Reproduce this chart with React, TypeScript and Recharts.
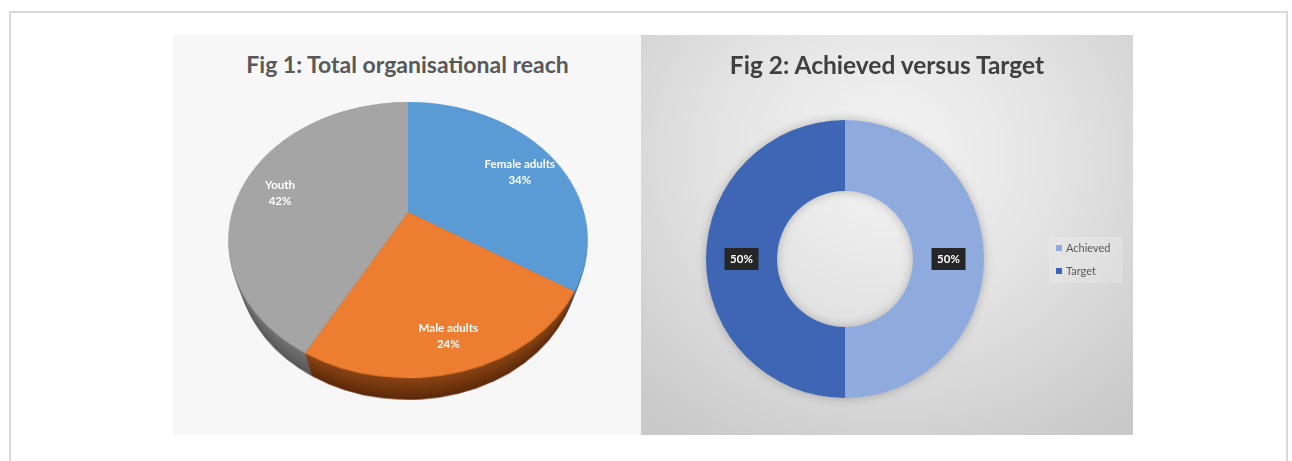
import React from 'react';
import { PieChart, Pie, Cell, Legend } from 'recharts';

const reachGroups = ['Female adults', 'Male adults', 'Youth'];
const reachShares = [34, 24, 42];
const goalLabels = ['Achieved', 'Target'];
const goalShares = [50, 50];

const reachData = reachGroups.map((name, i) => ({ name, value: reachShares[i] }));
const goalData = goalLabels.map((name, i) => ({ name, value: goalShares[i] }));

const TOP_COLORS = ['#5b9bd5', '#ed7d31', '#a5a5a5'];
const SIDE_TOP = [[60, 112, 165], [136, 66, 18], [112, 112, 112]];
const SIDE_BOTTOM = [[40, 78, 118], [90, 40, 8], [86, 86, 86]];
const GOAL_COLORS = ['#8faadc', '#3e66b4'];

const FONT = 'Lato, "Open Sans", sans-serif';
const RAD = Math.PI / 180;
// fake 3D pie: flat pie tilted back with css perspective, side built from layers pushed back in z
const TILT = 41.2;
const PERSP = 572;
const R = 176;
const STEP = 2;
const LAYERS = 21;
const layers = Array.from({ length: LAYERS }, (_, i) => (LAYERS - i) * STEP);
const noMargin = { top: 0, right: 0, bottom: 0, left: 0 };

function project(lx: number, ly: number) {
  const s = Math.sin(TILT * RAD);
  const c = Math.cos(TILT * RAD);
  const w = PERSP / (PERSP - ly * s);
  return [lx * w, ly * c * w];
}

function sideColor(i: number, off: number) {
  const t = (off - STEP) / ((LAYERS - 1) * STEP);
  const a = SIDE_TOP[i];
  const b = SIDE_BOTTOM[i];
  const m = a.map((v, k) => Math.round(v + (b[k] - v) * t));
  return `rgb(${m[0]},${m[1]},${m[2]})`;
}

const reachLabel = (p: any) => {
  const r = p.outerRadius * 0.78;
  const [dx, dy] = project(r * Math.cos(-p.midAngle * RAD), r * Math.sin(-p.midAngle * RAD));
  const x = p.cx + dx;
  const y = p.cy + dy + 6;
  const name = p.name ?? p.payload?.name;
  return (
    <text x={x} y={y} textAnchor="middle" fill="#fff" fontFamily={FONT} fontSize={11.5} fontWeight={700}>
      <tspan x={x} dy={-4}>{name}</tspan>
      <tspan x={x} dy={16}>{`${Math.round(p.percent * 100)}%`}</tspan>
    </text>
  );
};

const goalLabel = (p: any) => {
  const r = (p.innerRadius + p.outerRadius) / 2;
  const x = p.cx + r * Math.cos(-p.midAngle * RAD);
  const y = p.cy + r * Math.sin(-p.midAngle * RAD);
  return (
    <g>
      <rect x={x - 17} y={y - 11} width={34} height={22} fill="#262626" />
      <text x={x} y={y + 4} textAnchor="middle" fill="#fff" fontFamily={FONT} fontSize={11.5} fontWeight={700}>
        {`${Math.round(p.percent * 100)}%`}
      </text>
    </g>
  );
};

const goalLegend = (props: any) => (
  <div style={{ background: 'rgba(255,255,255,0.18)', height: 46, paddingLeft: 7, boxSizing: 'border-box' }}>
    {(props.payload || []).map((entry: any, i: number) => (
      <div key={i} style={{ display: 'flex', alignItems: 'center', height: i === 0 ? 21 : 25, paddingTop: i === 0 ? 0 : 0, fontFamily: FONT, fontSize: 11, color: '#595959' }}>
        <span style={{ width: 6, height: 6, marginRight: 4, background: GOAL_COLORS[i] }} />
        {entry.value}
      </div>
    ))}
  </div>
);

const layerBox = {
  position: 'absolute' as const,
  left: 35,
  top: -23,
  width: 400,
  height: 400,
  transformOrigin: '200px 200px',
};

export default function App() {
  return (
    <div style={{ position: 'absolute', left: 0, top: 0, width: 1292, height: 461, overflow: 'hidden', background: '#fff' }}>
      <style>{`.donut .recharts-pie { filter: drop-shadow(0 0 5px rgba(0,0,0,0.25)); }`}</style>
      <div style={{ position: 'absolute', left: 9, top: 11, width: 1279, height: 470, border: '2px solid #d9d9d9', boxSizing: 'border-box' }} />

      {/* Fig 1 */}
      <div style={{ position: 'absolute', left: 173, top: 35, width: 469, height: 400, background: '#f7f7f7' }}>
        <div style={{ position: 'absolute', top: 15, width: '100%', textAlign: 'center', fontFamily: FONT, fontSize: 23, lineHeight: '28px', fontWeight: 700, color: '#595959' }}>
          Fig 1: Total organisational reach
        </div>
        {layers.map((off) => (
          <div key={off} style={{ ...layerBox, transform: `perspective(${PERSP}px) rotateX(${TILT}deg) translateZ(${-off}px)` }}>
            <PieChart width={400} height={400} margin={noMargin}>
              <Pie data={reachData} dataKey="value" cx={200} cy={200} outerRadius={R} startAngle={90} endAngle={-270} stroke="none" isAnimationActive={false}>
                {reachData.map((d, i) => (
                  <Cell key={d.name} fill={sideColor(i, off)} />
                ))}
              </Pie>
            </PieChart>
          </div>
        ))}
        <div style={{ ...layerBox, transform: `perspective(${PERSP}px) rotateX(${TILT}deg)` }}>
          <PieChart width={400} height={400} margin={noMargin}>
            <Pie data={reachData} dataKey="value" cx={200} cy={200} outerRadius={R} startAngle={90} endAngle={-270} stroke="none" isAnimationActive={false}>
              {reachData.map((d, i) => (
                <Cell key={d.name} fill={TOP_COLORS[i]} />
              ))}
            </Pie>
          </PieChart>
        </div>
        <div style={{ position: 'absolute', left: 0, top: 0 }}>
          <PieChart width={469} height={400} margin={noMargin}>
            <Pie data={reachData} dataKey="value" cx={235} cy={177} outerRadius={R} startAngle={90} endAngle={-270} fill="transparent" stroke="none" labelLine={false} label={reachLabel} isAnimationActive={false} />
          </PieChart>
        </div>
      </div>

      {/* Fig 2 */}
      <div style={{ position: 'absolute', left: 641, top: 35, width: 492, height: 400, background: 'radial-gradient(ellipse 75% 85% at 50% 30%, #f4f4f4 0%, #e4e4e4 45%, #c9c9c9 100%)' }}>
        <div style={{ position: 'absolute', top: 16, width: '100%', textAlign: 'center', fontFamily: FONT, fontSize: 24.5, lineHeight: '28px', fontWeight: 700, color: '#404040' }}>
          Fig 2: Achieved versus Target
        </div>
        <div className="donut" style={{ position: 'absolute', left: 0, top: 0 }}>
          <PieChart width={492} height={400} margin={noMargin}>
            <Pie data={goalData} dataKey="value" cx={204} cy={224} innerRadius={68} outerRadius={139} startAngle={90} endAngle={-270} stroke="none" labelLine={false} label={goalLabel} isAnimationActive={false}>
              {goalData.map((d, i) => (
                <Cell key={d.name} fill={GOAL_COLORS[i]} />
              ))}
            </Pie>
            <Legend layout="vertical" align="right" verticalAlign="middle" content={goalLegend} wrapperStyle={{ left: 408, top: 202, width: 74, height: 46 }} />
          </PieChart>
        </div>
      </div>
    </div>
  );
}
